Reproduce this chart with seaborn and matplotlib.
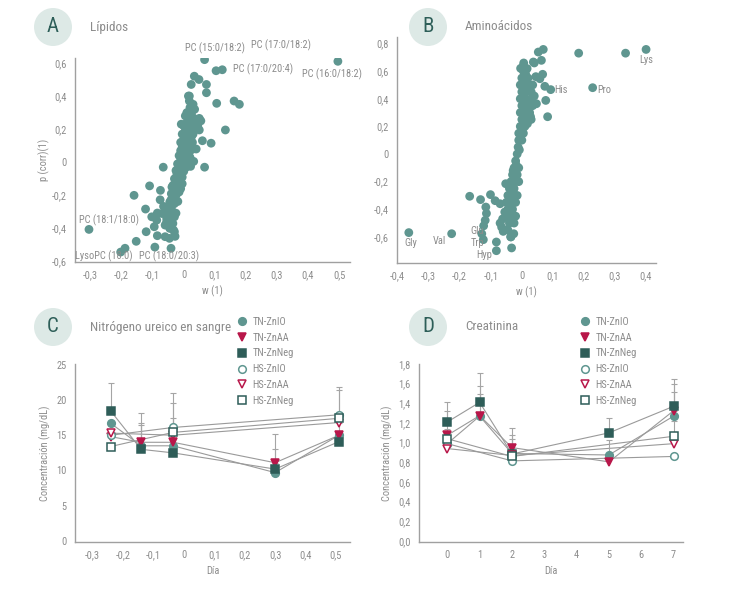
import matplotlib
matplotlib.use("Agg")
import matplotlib.pyplot as plt
import matplotlib.font_manager as fm
from matplotlib.patches import Ellipse
from matplotlib.lines import Line2D
import seaborn as sns
import numpy as np
import pandas as pd

# ---------------- data ----------------
# Panel A (lipids) : w(1), p(corr)(1)
lip_w = [0.207, 0.067, 0.496, 0.104, 0.124, 0.034, 0.049, 0.024, 0.073, 0.018, 0.073,
         0.106, 0.162, 0.179, 0.050, 0.134, 0.050, 0.060, 0.088, 0.067, -0.066, -0.110,
         -0.160, -0.075, -0.123, -0.085, -0.065, -0.305, -0.121, -0.153, -0.189, -0.203,
         -0.093, -0.041, -0.085, -0.060, -0.046, -0.028, -0.103, -0.087, -0.055, -0.033,
         -0.035, -0.041, -0.019, -0.025, -0.076, -0.050, -0.095, -0.070,
         0.015, 0.018, 0.030, 0.020, 0.035, 0.010, 0.025, 0.005, 0.020, 0.040, 0.010,
         0.030, 0.000, 0.015, 0.035, 0.005, 0.020, -0.005, 0.010, 0.025, 0.000, 0.015,
         -0.010, 0.005, 0.020, -0.005, 0.010, 0.025, -0.010, 0.000, 0.015, -0.015,
         0.005, 0.020, -0.010, 0.000, 0.010, -0.020, -0.005, 0.008, -0.015, -0.025,
         0.000, -0.010, -0.020, -0.005, -0.030, -0.015, -0.025, -0.005, -0.035, -0.020,
         -0.010, -0.030, -0.015, -0.040, -0.025, -0.035, -0.045, -0.030, -0.040, -0.050,
         -0.035, -0.045, -0.030, -0.055, -0.040, -0.060, -0.045, -0.030, 0.045, 0.030,
         0.040, 0.020, 0.055, 0.028, -0.008, 0.012, -0.022, -0.038, 0.032, 0.022]
lip_p = [0.681, 0.620, 0.610, 0.553, 0.559, 0.520, 0.500, 0.470, 0.470, 0.400, 0.420,
         0.356, 0.370, 0.350, 0.265, 0.195, 0.195, 0.130, 0.115, -0.030, -0.030, -0.143,
         -0.200, -0.170, -0.283, -0.307, -0.267, -0.406, -0.420, -0.478, -0.520, -0.543,
         -0.513, -0.520, -0.444, -0.450, -0.460, -0.448, -0.330, -0.350, -0.360, -0.410,
         -0.370, -0.227, -0.237, -0.308, -0.227, -0.290, -0.390, -0.310,
         0.400, 0.370, 0.350, 0.330, 0.320, 0.300, 0.290, 0.280, 0.260, 0.260, 0.240,
         0.230, 0.220, 0.210, 0.200, 0.190, 0.180, 0.170, 0.160, 0.155, 0.140, 0.130,
         0.120, 0.110, 0.100, 0.090, 0.080, 0.075, 0.070, 0.060, 0.050, 0.040,
         0.035, 0.020, 0.010, 0.000, -0.005, -0.010, -0.020, -0.030, -0.040, -0.050,
         -0.055, -0.065, -0.080, -0.090, -0.100, -0.110, -0.120, -0.130, -0.140, -0.150,
         -0.160, -0.170, -0.180, -0.190, -0.200, -0.220, -0.240, -0.250, -0.270, -0.280,
         -0.300, -0.320, -0.330, -0.340, -0.360, -0.380, -0.400, -0.420, 0.220, 0.170,
         0.080, 0.030, 0.250, 0.120, 0.230, 0.060, -0.070, -0.150, 0.005, -0.025]

# Panel B (amino acids)
aa_w = [0.400, 0.334, 0.183, 0.228, 0.093, 0.083, 0.077, 0.047, -0.364, -0.226, -0.129,
        -0.124, -0.082, -0.082, -0.168, -0.133, -0.101, -0.086, -0.116, -0.114, -0.118,
        -0.123, -0.052, -0.036, -0.033, -0.026, -0.062, -0.070, -0.065, -0.060, -0.070,
        0.040, 0.006, 0.017, 0.037, 0.063, 0.053, 0.069, 0.067, 0.058, 0.074,
        0.000, 0.020, -0.005, 0.010, 0.025, 0.035, 0.000, 0.015, 0.030, -0.005, 0.010,
        0.030, 0.000, 0.020, 0.035, -0.005, 0.010, 0.025, 0.000, 0.015, 0.030, -0.005,
        0.010, -0.010, 0.005, -0.010, 0.000, -0.012, -0.015, -0.020, -0.025, -0.010,
        -0.030, -0.015, -0.035, -0.020, -0.010, -0.040, -0.025, -0.045, -0.030, -0.015,
        -0.050, -0.035, -0.020, -0.045, -0.030, -0.050, -0.035, -0.020, -0.040, -0.025,
        -0.045, -0.035, 0.005, 0.012, 0.022, 0.040, 0.045, 0.008, -0.004, 0.018, -0.018,
        -0.028, 0.002, -0.008, 0.028, 0.015, -0.040, -0.055, 0.005, 0.025, 0.010]
aa_p = [0.757, 0.730, 0.730, 0.480, 0.466, 0.270, 0.388, 0.364, -0.569, -0.577, -0.577,
        -0.620, -0.637, -0.700, -0.306, -0.330, -0.294, -0.338, -0.384, -0.430, -0.480,
        -0.520, -0.215, -0.600, -0.680, -0.577, -0.470, -0.500, -0.530, -0.560, -0.360,
        0.659, 0.659, 0.618, 0.666, 0.678, 0.738, 0.757, 0.577, 0.545, 0.490,
        0.550, 0.550, 0.500, 0.500, 0.500, 0.500, 0.450, 0.450, 0.450, 0.400, 0.400,
        0.400, 0.350, 0.350, 0.350, 0.300, 0.300, 0.300, 0.250, 0.250, 0.250, 0.200,
        0.200, 0.150, 0.150, 0.100, 0.100, 0.050, 0.000, -0.050, -0.100, -0.100,
        -0.150, -0.150, -0.200, -0.200, -0.200, -0.250, -0.250, -0.300, -0.300, -0.300,
        -0.350, -0.350, -0.350, -0.400, -0.400, -0.450, -0.450, -0.450, -0.500, -0.500,
        -0.550, -0.600, 0.600, 0.580, 0.470, 0.420, 0.560, 0.520, 0.620, 0.220, -0.080,
        -0.120, 0.180, 0.030, 0.270, 0.330, -0.420, -0.420, 0.640, 0.280, 0.480]

# Panels C and D: series
series = ["TN-ZnIO", "TN-ZnAA", "TN-ZnNeg", "HS-ZnIO", "HS-ZnAA", "HS-ZnNeg"]
bun_x_tn = [-0.24, -0.14, -0.035, 0.30, 0.51]
bun_x_hs = [-0.24, -0.035, 0.51]
bun_vals = {
    "TN-ZnIO": [16.7, 13.5, 13.5, 9.7, 15.0],
    "TN-ZnAA": [14.8, 14.0, 14.0, 11.1, 15.0],
    "TN-ZnNeg": [18.45, 13.0, 12.5, 10.2, 14.1],
    "HS-ZnIO": [15.0, 16.1, 17.9],
    "HS-ZnAA": [15.3, 15.0, 16.8],
    "HS-ZnNeg": [13.4, 15.4, 17.4],
}
bun_err = {
    "TN-ZnIO": [0.0, 3.0, 0.0, 0.0, 0.0],
    "TN-ZnAA": [0.0, 4.1, 3.4, 4.1, 3.3],
    "TN-ZnNeg": [3.95, 3.8, 0.0, 2.9, 0.0],
    "HS-ZnIO": [0.0, 4.9, 3.9],
    "HS-ZnAA": [0.0, 0.0, 4.6],
    "HS-ZnNeg": [0.0, 4.1, 0.0],
}
cre_x_tn = [0, 1, 2, 5, 7]
cre_x_hs = [0, 2, 7]
cre_vals = {
    "TN-ZnIO": [0.99, 1.27, 0.89, 0.875, 1.27],
    "TN-ZnAA": [1.075, 1.275, 0.95, 0.805, 1.325],
    "TN-ZnNeg": [1.21, 1.41, 0.885, 1.10, 1.37],
    "HS-ZnIO": [0.99, 0.815, 0.86],
    "HS-ZnAA": [0.94, 0.87, 0.99],
    "HS-ZnNeg": [1.04, 0.86, 1.065],
}
cre_err = {
    "TN-ZnIO": [0.15, 0.22, 0.15, 0.15, 0.25],
    "TN-ZnAA": [0.25, 0.30, 0.20, 0.0, 0.27],
    "TN-ZnNeg": [0.20, 0.30, 0.195, 0.15, 0.28],
    "HS-ZnIO": [0.0, 0.0, 0.0],
    "HS-ZnAA": [0.0, 0.0, 0.0],
    "HS-ZnNeg": [0.0, 0.0, 0.16],
}

# ---------------- style ----------------
sns.set_theme(style="white")
avail = {f.name for f in fm.fontManager.ttflist}
fam = "DejaVu Sans"
for cand in ["Liberation Sans Narrow", "Roboto Condensed", "Open Sans Condensed", "Roboto", "Liberation Sans"]:
    if cand in avail:
        fam = cand
        break
plt.rcParams["font.family"] = [fam, "DejaVu Sans"]

GREY = "#8c8c8c"
SPINE = "#a0a0a0"
PT = "#5f9690"
RED = "#b8174a"
DARK = "#2e5d58"
BADGE = "#dde9e6"
BADGE_TXT = "#2d5e58"

style = {
    "TN-ZnIO": dict(marker="o", mfc=PT, mec=PT),
    "TN-ZnAA": dict(marker="v", mfc=RED, mec=RED),
    "TN-ZnNeg": dict(marker="s", mfc=DARK, mec=DARK),
    "HS-ZnIO": dict(marker="o", mfc="white", mec=PT),
    "HS-ZnAA": dict(marker="v", mfc="white", mec=RED),
    "HS-ZnNeg": dict(marker="s", mfc="white", mec=DARK),
}
MS = 5.5

W, H = 733, 589
fig = plt.figure(figsize=(W / 100, H / 100), dpi=100)


def add_ax(l, r, t, b):
    return fig.add_axes([l / W, 1 - b / H, (r - l) / W, (b - t) / H])


def style_ax(ax):
    sns.despine(ax=ax)
    for s in ["left", "bottom"]:
        ax.spines[s].set_color(SPINE)
        ax.spines[s].set_linewidth(1.0)
    ax.tick_params(axis="both", colors=GREY, labelsize=7.5, length=0, pad=6)
    for lab in ax.get_xticklabels() + ax.get_yticklabels():
        lab.set_color(GREY)


def comma(v, nd):
    s = f"{v:.{nd}f}".replace(".", ",")
    if s in ("-0", "-0,0"):
        s = s[1:]
    return s


def badge(cx, cy, letter, title):
    fig.patches.append(Ellipse((cx / W, 1 - cy / H), 38 / W, 38 / H, transform=fig.transFigure,
                               facecolor=BADGE, edgecolor="none"))
    fig.text(cx / W, 1 - cy / H, letter, ha="center", va="center", fontsize=15,
             color=BADGE_TXT)
    fig.text((cx + 37) / W, 1 - cy / H, title, ha="left", va="center", fontsize=9.5,
             color=GREY)


# ---------------- Panel A ----------------
axA = add_ax(75, 350, 58, 262)
dfA = pd.DataFrame({"w": lip_w, "p": lip_p})
sns.scatterplot(data=dfA, x="w", y="p", ax=axA, color=PT, s=40, edgecolor="none", legend=False)
axA.set_xlim(-0.35, 0.535)
axA.set_ylim(-0.603, 0.63)
xt = [-0.3, -0.2, -0.1, 0, 0.1, 0.2, 0.3, 0.4, 0.5]
axA.set_xticks(xt)
axA.set_xticklabels([comma(v, 1) if v != 0 else "0" for v in xt])
yt = [-0.6, -0.4, -0.2, 0, 0.2, 0.4, 0.6]
axA.set_yticks(yt)
axA.set_yticklabels([comma(v, 1) if v != 0 else "0" for v in yt])
axA.set_xlabel("w (1)", color=GREY, fontsize=7.5)
axA.set_ylabel("p (corr)(1)", color=GREY, fontsize=7.5, labelpad=1)
style_ax(axA)
lipid_labels = [("PC (15:0/18:2)", 0.10, 0.687, "center"), ("PC (17:0/18:2)", 0.218, 0.707, "left"),
                ("PC (17:0/20:4)", 0.159, 0.56, "left"), ("PC (16:0/18:2)", 0.477, 0.533, "center"),
                ("PC (18:1/18:0)", -0.242, -0.348, "center"), ("LysoPC (18:0)", -0.256, -0.569, "center"),
                ("PC (18:0/20:3)", -0.046, -0.569, "center")]
for t, x, y, ha in lipid_labels:
    axA.text(x, y, t, ha=ha, va="center", fontsize=7.5, color=GREY, clip_on=False, zorder=5)
badge(53, 27, "A", "Lípidos")

# ---------------- Panel B ----------------
axB = add_ax(397, 656, 37, 263)
dfB = pd.DataFrame({"w": aa_w, "p": aa_p})
sns.scatterplot(data=dfB, x="w", y="p", ax=axB, color=PT, s=40, edgecolor="none", legend=False)
axB.set_xlim(-0.402, 0.432)
axB.set_ylim(-0.789, 0.847)
xt = [-0.4, -0.3, -0.2, -0.1, 0, 0.1, 0.2, 0.3, 0.4]
axB.set_xticks(xt)
axB.set_xticklabels([comma(v, 1) if v != 0 else "0" for v in xt])
yt = [-0.6, -0.4, -0.2, 0, 0.2, 0.4, 0.6, 0.8]
axB.set_yticks(yt)
axB.set_yticklabels([comma(v, 1) if v != 0 else "0" for v in yt])
axB.set_xlabel("w (1)", color=GREY, fontsize=7.5)
axB.set_ylabel("")
style_ax(axB)
aa_labels = [("Lys", 0.40, 0.68, "center"), ("Pro", 0.242, 0.466, "left"), ("His", 0.103, 0.466, "left"),
             ("Gly", -0.357, -0.645, "center"), ("Val", -0.243, -0.632, "right"),
             ("Glu", -0.166, -0.555, "left"), ("Trp", -0.166, -0.645, "left"),
             ("Hyp", -0.148, -0.73, "left")]
for t, x, y, ha in aa_labels:
    axB.text(x, y, t, ha=ha, va="center", fontsize=7.5, color=GREY, clip_on=False, zorder=5)
badge(428, 27, "B", "Aminoácidos")


# ---------------- Panels C & D ----------------
def line_panel(ax, xtn, xhs, vals, errs):
    for name in series:
        xs = xtn if name.startswith("TN") else xhs
        ax.plot(xs, vals[name], color="#9a9a9a", lw=0.8, zorder=1)
    for name in series:
        xs = xtn if name.startswith("TN") else xhs
        e = np.array(errs[name])
        v = np.array(vals[name])
        m = e > 0
        if m.any():
            ax.errorbar(np.array(xs)[m], v[m], yerr=[np.zeros(m.sum()), e[m]], fmt="none",
                        ecolor="#a5a5a5", elinewidth=0.8, capsize=2.5, capthick=0.8, zorder=2)
    for name in series:
        xs = xtn if name.startswith("TN") else xhs
        st = style[name]
        ax.plot(xs, vals[name], ls="none", marker=st["marker"], mfc=st["mfc"], mec=st["mec"],
                mew=1.1, ms=MS, zorder=3)


def add_legend(x0, y0):
    handles = []
    for name in series:
        st = style[name]
        handles.append(Line2D([], [], ls="none", marker=st["marker"], mfc=st["mfc"], mec=st["mec"],
                              mew=1.1, ms=MS, label=name))
    leg = fig.legend(handles=handles, loc="upper left", bbox_to_anchor=(x0 / W, 1 - y0 / H),
                     frameon=False, fontsize=7.5, handlelength=1.0, handletextpad=0.5,
                     labelspacing=0.55, borderpad=0, borderaxespad=0)
    for t in leg.get_texts():
        t.set_color(GREY)


axC = add_ax(75, 350, 364, 542)
line_panel(axC, bun_x_tn, bun_x_hs, bun_vals, bun_err)
axC.set_xlim(-0.357, 0.546)
axC.set_ylim(-0.14, 25.1)
xt = [-0.3, -0.2, -0.1, 0, 0.1, 0.2, 0.3, 0.4, 0.5]
axC.set_xticks(xt)
axC.set_xticklabels([comma(v, 1) if v != 0 else "0" for v in xt])
axC.set_yticks([0, 5, 10, 15, 20, 25])
axC.set_yticklabels(["0", "5", "10", "15", "20", "25"])
axC.set_xlabel("Día", color=GREY, fontsize=7.5)
axC.set_ylabel("Concentración (mg/dL)", color=GREY, fontsize=7.5)
style_ax(axC)
badge(53, 327, "C", "Nitrógeno ureico en sangre")
add_legend(237, 317)

axD = add_ax(419, 683, 364, 542)
line_panel(axD, cre_x_tn, cre_x_hs, cre_vals, cre_err)
axD.set_xlim(-0.875, 7.29)
axD.set_ylim(-0.01, 1.78)
axD.set_xticks(list(range(8)))
axD.set_xticklabels([str(i) for i in range(8)])
yt = [0.0, 0.2, 0.4, 0.6, 0.8, 1.0, 1.2, 1.4, 1.6, 1.8]
axD.set_yticks(yt)
axD.set_yticklabels([comma(v, 1) for v in yt])
axD.set_xlabel("Día", color=GREY, fontsize=7.5)
axD.set_ylabel("Concentración (mg/dL)", color=GREY, fontsize=7.5)
style_ax(axD)
badge(428, 327, "D", "Creatinina")
add_legend(580, 317)

fig.savefig("out.png", dpi=100)
